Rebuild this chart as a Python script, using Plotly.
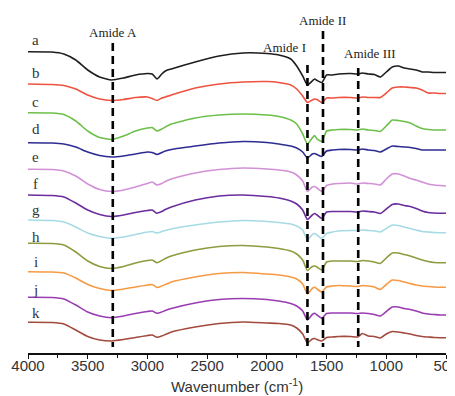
import plotly.graph_objects as go

# Wavenumber sample points (cm^-1)
wavenumber = [4000, 3800, 3700, 3600, 3500, 3400, 3300, 3200, 3100, 3000, 2960, 2920, 2880, 2850,
              2800, 2600, 2400, 2200, 2000, 1900, 1800, 1750, 1700, 1660, 1620, 1600, 1580, 1540,
              1500, 1450, 1400, 1300, 1240, 1200, 1150, 1100, 1050, 1000, 950, 900, 850, 800,
              750, 700, 650, 600, 550, 500]

# Stacked (offset) spectra, depth units (larger = lower on the page)
spec_a = [51.7, 52, 54, 60, 70, 77, 80, 78, 75, 73.5, 74, 79, 74, 71, 69, 62, 56, 53, 53.5, 55, 59, 66, 76,
          85, 81, 79, 80.5, 82.5, 75, 75, 74, 73.5, 74, 73, 74, 74.5, 77, 72, 67, 66, 68, 69, 70, 72, 72,
          72.5, 72.5, 72.5]
spec_b = [84, 84.5, 85.5, 89, 95, 99, 100.5, 99.5, 97.5, 97, 98.5, 100.5, 98, 97, 95, 88, 84, 82, 81.5,
          82.5, 85, 89, 96, 102.5, 100, 99, 99.5, 102.5, 98, 98, 97.5, 97.5, 98, 97, 97.5, 97.5, 97.5,
          93, 88, 87, 87, 87.5, 88, 90, 93, 93, 93.5, 93.5]
spec_c = [112.7, 113, 114.5, 121, 131, 137.5, 139.5, 136, 131, 128, 127.5, 131, 129, 127, 124, 118, 115,
          114, 115, 116.5, 120, 124, 134, 144, 138, 135.5, 139, 141.5, 131, 130, 129.5, 129.5, 130, 129,
          130, 130.5, 131.5, 126, 120, 120.5, 121.5, 123, 126, 128.5, 129.5, 130, 130, 130]
spec_d = [142.7, 143, 144, 147, 152, 155.5, 157, 156, 154, 152, 152.5, 154.5, 152.5, 151, 149.5, 146, 143,
          141.5, 142.5, 144, 146, 148, 152, 158, 154, 153.5, 154.5, 156.5, 151, 150, 149.5, 149.5, 150,
          149, 150, 150.5, 152, 149, 146, 146.5, 147, 147.5, 148.5, 150, 150, 150, 150, 150]
spec_e = [169.3, 169.5, 171, 176, 184, 189.5, 191.5, 190, 187, 183.5, 182, 185, 183.5, 181.5, 179, 173,
          169.5, 168, 169, 170, 172, 175, 181, 191.5, 187, 186.5, 188, 191.5, 185.5, 184, 183.5, 183,
          184, 183, 183.5, 184, 185, 179, 174, 174, 176, 178.5, 180, 182, 184, 185, 185.5, 186]
spec_f = [195, 195.5, 197, 203, 210, 214.5, 216.5, 215, 212.5, 210.5, 210, 213.3, 211.5, 209.5, 207, 200,
          196, 195, 196.5, 198, 201, 204, 210, 219.5, 215, 213.5, 215, 218.5, 212, 211.5, 211.5, 211.5,
          212, 211, 211.5, 212, 213.5, 209, 204.5, 204, 205.5, 206.5, 208.5, 211, 212.5, 213, 213.3, 213.3]
spec_g = [220, 220.5, 222, 227, 233, 236.5, 238.3, 237, 234.5, 232, 231.5, 233, 231.5, 230.5, 229, 225,
          222, 220.5, 221.5, 222.5, 224, 226, 230, 240, 234.5, 233.5, 235, 238.3, 233.5, 232, 231,
          230.5, 230.5, 230, 230.5, 231, 232, 228.5, 225, 225.5, 227, 228.5, 230, 231.5, 232, 232.5,
          232.7, 232.7]
spec_h = [243.3, 243.5, 245, 252, 261, 266.5, 268.5, 266.5, 263, 260.5, 260, 262.7, 260.5, 258.5, 256,
          250, 246.5, 245.5, 247, 248.5, 251, 254, 260, 270.5, 266.5, 266, 267, 270, 262, 261, 261, 261,
          261.5, 260.5, 261, 262, 263.5, 258, 253, 253, 254.5, 256, 258, 260, 261.5, 262.5, 262.7, 262.7]
spec_i = [271.7, 272, 273, 278, 284.5, 288.5, 290.5, 289, 287, 285, 284.5, 287.5, 286, 284.5, 282, 277,
          273.5, 272.5, 274, 275, 277, 279, 284, 294, 288.5, 287.3, 289, 292, 287, 286, 285.5, 286,
          286.5, 285.5, 286, 287, 289.5, 284.5, 280, 280.5, 282, 283.5, 285, 286, 286.5, 287, 287.3, 287.3]
spec_j = [297.3, 297.5, 299, 305, 312, 316, 317.7, 316, 313.5, 311.5, 311, 313.3, 312, 310.5, 308.5, 303,
          299.5, 298.5, 299.5, 301, 303.5, 306, 311, 320, 314.5, 313.3, 315, 318.3, 313.5, 313, 313, 313,
          313.5, 313, 313.5, 314.5, 316, 311.5, 307, 307, 308.5, 309.5, 311, 313, 314, 314.5, 315, 315]
spec_k = [322.3, 322.5, 324, 330, 336.5, 340, 341, 339.5, 337.5, 335.5, 335, 337.3, 336, 334.5, 332, 327,
          323.5, 322, 323, 323.5, 325, 328, 334, 343, 339, 338.5, 339.5, 341, 337.5, 337, 336.5, 336.5,
          337, 333.5, 336, 336.5, 338, 334, 331.5, 332, 333, 334, 335.5, 336.5, 337, 337.5, 337.7, 337.7]

series_names = ["a", "b", "c", "d", "e", "f", "g", "h", "i", "j", "k"]
series_values = [spec_a, spec_b, spec_c, spec_d, spec_e, spec_f, spec_g, spec_h, spec_i, spec_j, spec_k]
series_colors = ["#1e1e1e", "#ee5240", "#6cc04a", "#2e2c92", "#d291d6", "#6b2d9e", "#a6dbe6",
                 "#8e9b3e", "#f79a45", "#9a3db2", "#a24a3e"]
label_depth = [40, 72.7, 101.7, 128.5, 157, 184, 210, 236.5, 261.5, 289.5, 313.3]
label_wavenumber = 3935

# Amide band markers
amide_names = ["Amide A", "Amide I", "Amide II", "Amide III"]
amide_wavenumber = [3290, 1660, 1530, 1235]
amide_line_top = [43, 65, 31, 68]
amide_label_wn = [3290, 1855, 1530, 1140]
amide_label_depth = [32.5, 47.5, 20, 53]
line_bottom = 347

tick_values = [4000, 3500, 3000, 2500, 2000, 1500, 1000, 500]

fig = go.Figure()
for name, vals, col in zip(series_names, series_values, series_colors):
    fig.add_trace(go.Scatter(x=wavenumber, y=vals, mode="lines", name=name,
                             line=dict(color=col, width=1.6, shape="spline", smoothing=0.5),
                             showlegend=False, hoverinfo="skip"))

for wn, top in zip(amide_wavenumber, amide_line_top):
    fig.add_shape(type="line", xref="x", yref="y", x0=wn, x1=wn, y0=top, y1=line_bottom,
                  line=dict(color="black", width=2.6, dash="8px,5px"))

for name, wn, dep in zip(amide_names, amide_label_wn, amide_label_depth):
    fig.add_annotation(x=wn, y=dep, xref="x", yref="y", text=name, showarrow=False,
                       font=dict(family="Liberation Serif, Times New Roman, serif", size=13, color="#222"),
                       xanchor="center", yanchor="middle")

for name, dep in zip(series_names, label_depth):
    fig.add_annotation(x=label_wavenumber, y=dep, xref="x", yref="y", text=name, showarrow=False,
                       font=dict(family="Liberation Serif, Times New Roman, serif", size=15, color="#333"),
                       xanchor="center", yanchor="middle")

fig.add_annotation(x=0.5, y=-0.093, xref="paper", yref="paper",
                   text="Wavenumber (cm<sup>-1</sup>)", showarrow=False,
                   font=dict(family="Liberation Sans, Arial, sans-serif", size=15, color="#333"),
                   xanchor="center", yanchor="middle")

# The page body has an 8px default margin; the figure is sized to fill the rest of the window.
fig.update_layout(
    width=447, height=388,
    margin=dict(l=20, r=9, t=0, b=43, autoexpand=False),
    paper_bgcolor="white", plot_bgcolor="white",
    xaxis=dict(range=[4000, 500], tickvals=tick_values, ticktext=[str(v) for v in tick_values],
               automargin=False, ticklabeloverflow="allow", ticklabelstandoff=-6,
               showline=True, linecolor="#111", linewidth=1.6, showgrid=False, zeroline=False,
               ticks="outside", ticklen=4, tickwidth=1.3, tickcolor="#111",
               minor=dict(dtick=250, ticks="outside", ticklen=3, tickwidth=1.1, tickcolor="#111"),
               tickfont=dict(family="Liberation Sans, Arial, sans-serif", size=15, color="#333")),
    yaxis=dict(range=[353, 8], visible=False, automargin=False),
)

fig.write_html("out.html")
